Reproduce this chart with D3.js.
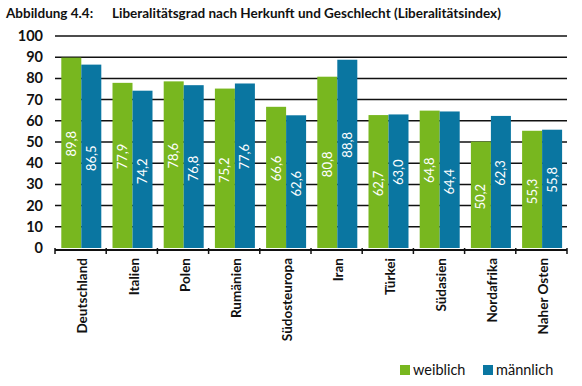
<!DOCTYPE html>
<html>
<head>
<meta charset="utf-8">
<script src="https://cdn.jsdelivr.net/npm/d3@7"></script>
<style>
    body { margin: 0; background: #fff; }
    svg { display: block; font-family: Lato, "Open Sans", sans-serif; }
</style>
</head>
<body>
<svg id="chart" width="582" height="386"></svg>
<script>
// DATA
const categories = ["Deutschland", "Italien", "Polen", "Rumänien", "Südosteuropa",
    "Iran", "Türkei", "Südasien", "Nordafrika", "Naher Osten"];
const weiblich = [89.8, 77.9, 78.6, 75.2, 66.6, 80.8, 62.7, 64.8, 50.2, 55.3];
const maennlich = [86.5, 74.2, 76.8, 77.6, 62.6, 88.8, 63.0, 64.4, 62.3, 55.8];
const seriesNames = ["weiblich", "männlich"];
const yTicks = [0, 10, 20, 30, 40, 50, 60, 70, 80, 90, 100];

const colors = { weiblich: "#78b71f", "männlich": "#0a76a1" };

const svg = d3.select("#chart");
const plotLeft = 55, plotRight = 567, plotTop = 36, plotBottom = 248;

const x = d3.scaleBand().domain(categories).range([plotLeft, plotRight]).padding(0);
const x1 = d3.scaleBand().domain(seriesNames).range([6.3, 46.3]).padding(0);
const y = d3.scaleLinear().domain([0, 100]).range([plotBottom, plotTop]);

const fmt = v => d3.format(".1f")(v).replace(".", ",");

// title
const title = svg.append("text")
    .attr("x", 6).attr("y", 18)
    .attr("font-weight", "bold").attr("font-size", 13.5)
    .attr("fill", "#111");
title.append("tspan").text("Abbildung 4.4:");
title.append("tspan").attr("x", 112).text("Liberalitätsgrad nach Herkunft und Geschlecht (Liberalitätsindex)");

// gridlines
svg.append("g").selectAll("line")
    .data(yTicks.filter(t => t > 0))
    .join("line")
    .attr("x1", plotLeft).attr("x2", plotRight)
    .attr("y1", d => y(d)).attr("y2", d => y(d))
    .attr("stroke", "#111").attr("stroke-width", 1.5);

// y tick labels
svg.append("g").selectAll("text")
    .data(yTicks)
    .join("text")
    .attr("x", 43)
    .attr("y", d => y(d))
    .attr("dy", "0.35em")
    .attr("text-anchor", "end")
    .attr("font-weight", "bold").attr("font-size", 14.5)
    .attr("fill", "#111")
    .text(d => d);

// bars
const rows = categories.map((c, i) => ({ c, vals: [
    { s: "weiblich", v: weiblich[i], other: maennlich[i] },
    { s: "männlich", v: maennlich[i], other: weiblich[i] }
] }));

const groups = svg.append("g").selectAll("g")
    .data(rows)
    .join("g")
    .attr("transform", d => `translate(${x(d.c)},0)`);

groups.selectAll("rect")
    .data(d => d.vals)
    .join("rect")
    .attr("x", d => x1(d.s))
    .attr("y", d => y(d.v))
    .attr("width", x1.bandwidth())
    .attr("height", d => y(0) - y(d.v))
    .attr("fill", d => colors[d.s]);

// value labels (higher bar's label sits a bit higher)
groups.selectAll("text")
    .data(d => d.vals)
    .join("text")
    .attr("transform", d => {
        const cx = x1(d.s) + x1.bandwidth() / 2;
        const cy = y(d.v / 2) + (d.v > d.other ? -9 : 2);
        return `translate(${cx},${cy}) rotate(-90)`;
    })
    .attr("text-anchor", "middle")
    .attr("dy", "0.35em")
    .attr("font-size", 13)
    .attr("fill", "#fff")
    .text(d => fmt(d.v));

// x axis
svg.append("line")
    .attr("x1", plotLeft).attr("x2", plotRight)
    .attr("y1", 250).attr("y2", 250)
    .attr("stroke", "#111").attr("stroke-width", 2);

svg.append("g").selectAll("line")
    .data(categories.map(c => x(c)).concat([plotRight]))
    .join("line")
    .attr("x1", d => d).attr("x2", d => d)
    .attr("y1", 248).attr("y2", 254)
    .attr("stroke", "#111").attr("stroke-width", 1.5);

// category labels
svg.append("g").selectAll("text")
    .data(categories)
    .join("text")
    .attr("transform", d => `translate(${x(d) + x.bandwidth() / 2 + 2},258) rotate(-90)`)
    .attr("text-anchor", "end")
    .attr("dy", "0.35em")
    .attr("font-weight", "bold").attr("font-size", 13.5)
    .attr("fill", "#111")
    .text(d => d);

// legend
const legendX = [400, 483];
const legend = svg.append("g").selectAll("g")
    .data(seriesNames)
    .join("g")
    .attr("transform", (d, i) => `translate(${legendX[i]},365)`);

legend.append("rect")
    .attr("width", 10).attr("height", 10)
    .attr("fill", d => colors[d]);

legend.append("text")
    .attr("x", 13).attr("y", 10)
    .attr("font-size", 14.5)
    .attr("fill", "#111")
    .text(d => d);
</script>
</body>
</html>
